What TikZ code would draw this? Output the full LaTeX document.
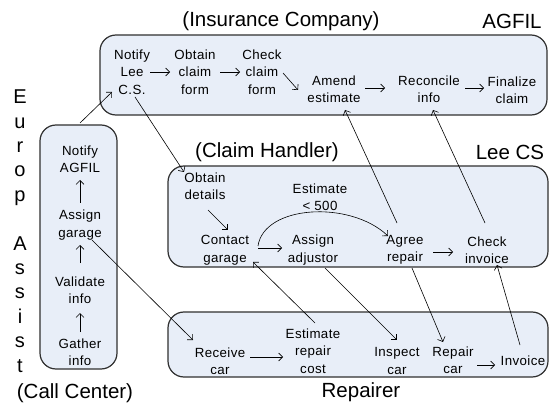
\documentclass[tikz,border=0pt]{standalone}
\usepackage{fontspec}
\setmainfont{Liberation Sans}
\newfontfamily\taskfont[LetterSpace=3]{Liberation Sans}
\usetikzlibrary{arrows.meta,calc}
\definecolor{boxfill}{HTML}{E8EEF8}
\definecolor{boxline}{HTML}{303030}
\tikzset{
 lane/.style={draw=boxline, fill=boxfill, line width=1.2pt, rounded corners=16pt},
 task/.style={align=center, inner sep=0pt, font=\taskfont\fontsize{13.3}{17.5}\selectfont},
 lanetitle/.style={inner sep=0pt, font=\fontsize{20.5}{23}\selectfont},
 arr/.style={-{Straight Barb[length=4pt,width=8pt]}, line width=0.6pt},
}
\begin{document}
\begin{tikzpicture}[x=1pt,y=-1pt]
\useasboundingbox (0,0) rectangle (552,409);
% lanes
\draw[lane] (100,35) rectangle (547,115);
\draw[lane] (168,166) rectangle (548,267);
\draw[lane] (168,312) rectangle (548,377);
\draw[lane] (40,125) rectangle (117,369);
% titles
\node[lanetitle] (tins) at (281,21) {(Insurance Company)};
\node[lanetitle] (tagf) at (512,21) {AGFIL};
\node[lanetitle] (tch) at (267,152) {(Claim Handler)};
\node[lanetitle] (tlee) at (510,152) {Lee CS};
\node[lanetitle] (trep) at (361,392) {Repairer};
\node[lanetitle] (tcc) at (75,393) {(Call Center)};
\node[lanetitle, align=center, font=\fontsize{20}{24.4}\selectfont] (teu) at (20,231)
  {E\\u\\r\\o\\p\\[24.4pt]A\\s\\s\\i\\s\\t};
% AGFIL tasks
\node[task] (lee) at (132,72) {Notify\\Lee\\C.S.};
\node[task] (obt) at (195,72) {Obtain\\claim\\form};
\node[task] (chk) at (262,72) {Check\\claim\\form};
\node[task] (amd) at (334,89) {Amend\\estimate};
\node[task] (rec) at (429,89) {Reconcile\\info};
\node[task] (fin) at (512,90) {Finalize\\claim};
% Europ Assist tasks
\node[task] (ea1) at (80,159) {Notify\\AGFIL};
\node[task] (ea2) at (80,225) {Assign\\garage};
\node[task] (ea3) at (80,290) {Validate\\info};
\node[task] (ea4) at (80,352) {Gather\\info};
% Lee CS tasks
\node[task] (ld) at (205,186) {Obtain\\details};
\node[task] (lc) at (225,250) {Contact\\garage};
\node[task] (la) at (313,250) {Assign\\adjustor};
\node[task] (lag) at (405,250) {Agree\\repair};
\node[task] (lci) at (487,250) {Check\\invoice};
\node[task] (lest) at (320,197) {Estimate\\< 500};
% Repairer tasks
\node[task] (rr) at (220,361) {Receive\\car};
\node[task] (re) at (313,351) {Estimate\\repair\\cost};
\node[task] (ri) at (397,361) {Inspect\\car};
\node[task] (rp) at (453,360) {Repair\\car};
\node[task] (rv) at (523,361) {Invoice};
% AGFIL arrows
\draw[arr] ($(lee)+(18,0)$) -- ($(obt)+(-25,0)$);
\draw[arr] ($(obt)+(25,0)$) -- ($(chk)+(-22,0)$);
\draw[arr] ($(chk)+(21,1)$) -- ($(amd)+(-36,1)$);
\draw[arr] ($(amd)+(31,-1)$) -- ($(rec)+(-44,-1)$);
\draw[arr] ($(rec)+(36,-1)$) -- ($(fin)+(-28,-2)$);
% Europ Assist arrows
\draw[arr] ($(ea2)+(0,-22)$) -- ($(ea1)+(0,21)$);
\draw[arr] ($(ea3)+(0,-27)$) -- ($(ea2)+(0,20)$);
\draw[arr] ($(ea4)+(0,-20)$) -- ($(ea3)+(0,23)$);
% Lee CS arrows
\draw[arr] ($(ld)+(3,24)$) -- ($(lc)+(3,-20)$);
\draw[arr] ($(lc)+(33,-2)$) -- ($(la)+(-31,-2)$);
\draw[arr] ($(lag)+(28,2)$) -- ($(lci)+(-34,2)$);
\draw[arr] ($(lc)+(33,-4)$) .. controls (264,205) and (350,200) .. ($(lag)+(-17,-14)$);
% Repairer arrows
\draw[arr] ($(rr)+(30,-4)$) -- ($(re)+(-30,6)$);
\draw[arr] ($(rp)+(24,5)$) -- ($(rv)+(-28,4)$);
% cross-lane arrows
\draw[arr] ($(ea1)+(0,-36)$) -- ($(lee)+(-20,20)$);
\draw[arr] ($(lee)+(3,25)$) -- ($(ld)+(-21,-14)$);
\draw[arr] ($(ea2)+(12,15)$) -- ($(rr)+(-27,-21)$);
\draw[arr] ($(re)+(2,-28)$) -- ($(lc)+(28,12)$);
\draw[arr] ($(la)+(12,18)$) -- ($(ri)+(0,-21)$);
\draw[arr] ($(lag)+(7,18)$) -- ($(rp)+(-10,-18)$);
\draw[arr] ($(rv)+(-3,-16)$) -- ($(lci)+(10,15)$);
\draw[arr] ($(lag)+(-8,-27)$) -- ($(amd)+(11,21)$);
\draw[arr] ($(lci)+(-2,-27)$) -- ($(rec)+(4,21)$);
\end{tikzpicture}
\end{document}
